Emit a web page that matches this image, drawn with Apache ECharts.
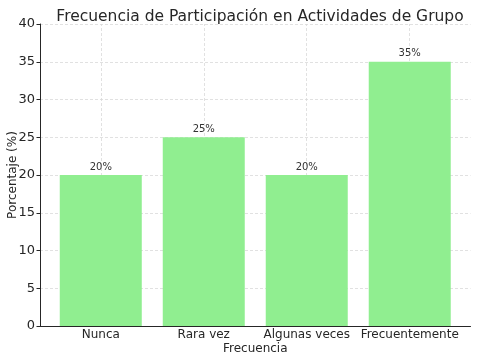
<!DOCTYPE html>
<html><head><meta charset="utf-8">
<script src="https://cdn.jsdelivr.net/npm/echarts@6/dist/echarts.min.js"></script>
<style>html,body{margin:0;padding:0;background:#fff}#c{width:478px;height:361px}</style>
</head><body><div id="c"></div>
<script>
const categories = ['Nunca', 'Rara vez', 'Algunas veces', 'Frecuentemente'];
const values = [20, 25, 20, 35];
const yTicks = [0, 5, 10, 15, 20, 25, 30, 35, 40];

const font = 'DejaVu Sans';
const idx = categories.map((_, i) => i);
const chart = echarts.init(document.getElementById('c'));
chart.setOption({
  animation: false,
  title: {
    text: 'Frecuencia de Participación en Actividades de Grupo',
    left: 255, textAlign: 'center', top: 4,
    textStyle: { fontFamily: font, fontSize: 15.5, fontWeight: 'normal', color: '#262626' }
  },
  grid: { left: 40, right: 7.5, top: 24, bottom: 35, outerBoundsMode: 'none', containLabel: false },
  xAxis: {
    type: 'value', min: -0.59, max: 3.59,
    name: 'Frecuencia', nameLocation: 'middle', nameGap: 17, nameMoveOverlap: false,
    nameTextStyle: { fontFamily: font, fontSize: 12, color: '#262626' },
    axisLine: { show: true, onZero: false, lineStyle: { color: '#262626', width: 1 } },
    axisTick: { show: true, inside: true, customValues: idx, length: 3, lineStyle: { color: '#262626' } },
    axisLabel: { customValues: idx, formatter: v => categories[Math.round(v)] ?? '', fontFamily: font, fontSize: 12, color: '#262626', margin: 3 },
    splitLine: { show: false }
  },
  yAxis: {
    type: 'value', min: 0, max: 40, interval: 5,
    name: 'Porcentaje (%)', nameLocation: 'middle', nameGap: 21, nameMoveOverlap: false,
    nameTextStyle: { fontFamily: font, fontSize: 12, color: '#262626' },
    axisLine: { show: true, onZero: false, lineStyle: { color: '#262626', width: 1 } },
    axisTick: { show: true, length: 3.5, lineStyle: { color: '#262626' } },
    axisLabel: { customValues: yTicks, fontFamily: font, fontSize: 13, color: '#262626', margin: 5 },
    splitLine: { show: true, lineStyle: { color: '#d9d9d9', type: [3, 2], width: 0.8 } }
  },
  series: [{
    type: 'bar',
    data: values.map((v, i) => [i, v]),
    barWidth: 82,
    itemStyle: { color: '#90EE90' },
    label: { show: true, position: 'top', distance: 3, formatter: p => p.value[1] + '%', fontFamily: font, fontSize: 10, color: '#333' },
    markLine: {
      silent: true, symbol: 'none', z: 0,
      label: { show: false },
      lineStyle: { color: '#d9d9d9', type: [3, 2], width: 0.8 },
      data: idx.map(i => ({ xAxis: i }))
    }
  }]
});
</script></body></html>
